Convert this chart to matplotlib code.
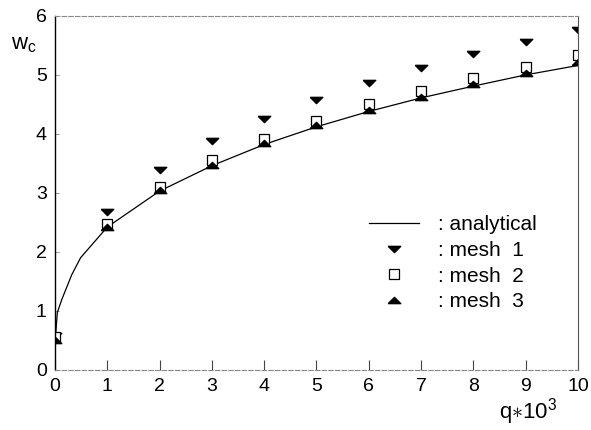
import matplotlib
matplotlib.use("Agg")
import matplotlib.pyplot as plt

plt.rcParams['font.family'] = ['Liberation Sans', 'DejaVu Sans']
plt.rcParams['mathtext.fontset'] = 'custom'
plt.rcParams['mathtext.rm'] = 'Liberation Sans'
plt.rcParams['mathtext.it'] = 'Liberation Sans'

# analytical curve
q_ana = [0.0, 0.01, 0.045, 0.13, 0.32, 0.49, 1, 2, 3, 4, 5, 6, 7, 8, 9, 10]
w_ana = [0.0, 0.55, 0.97, 1.19, 1.61, 1.90, 2.42, 3.03, 3.46, 3.82, 4.12,
         4.38, 4.61, 4.81, 5.00, 5.16]

# numerical results
q_mesh = [0, 1, 2, 3, 4, 5, 6, 7, 8, 9, 10]
w_mesh1 = [0.57, 2.68, 3.39, 3.88, 4.25, 4.58, 4.86, 5.12, 5.36, 5.56, 5.76]
w_mesh2 = [0.55, 2.48, 3.10, 3.56, 3.92, 4.22, 4.50, 4.73, 4.95, 5.14, 5.33]
w_mesh3 = [0.50, 2.42, 3.05, 3.48, 3.85, 4.15, 4.40, 4.63, 4.85, 5.03, 5.22]

x_ticks = list(range(0, 11))
y_ticks = list(range(0, 7))

# flat triangles like in the original print
tri_down = [(-1, 0.5), (1, 0.5), (0, -0.5), (-1, 0.5)]
tri_up = [(-1, -0.5), (1, -0.5), (0, 0.5), (-1, -0.5)]

fig = plt.figure(figsize=(5.91, 4.30), dpi=100)
ax = fig.add_axes([0.093, 0.14, 0.885, 0.823])

ax.plot(q_ana, w_ana, color='black', lw=0.9, label=': analytical')
ax.plot(q_mesh, w_mesh1, ls='none', marker=tri_down, ms=9, color='black',
        label=': mesh  1')
ax.plot(q_mesh, w_mesh2, ls='none', marker='s', ms=6.5, mfc='white',
        mec='black', mew=0.9, label=': mesh  2')
ax.plot(q_mesh, w_mesh3, ls='none', marker=tri_up, ms=9, color='black',
        label=': mesh  3')

ax.set_xlim(0, 10)
ax.set_ylim(0, 6)
ax.set_xticks(x_ticks)
ax.set_yticks(y_ticks)
ax.tick_params(axis='x', direction='in', length=7, width=0.8, color='#444444',
               labelsize=14, pad=6)
ax.tick_params(axis='y', direction='in', length=3, width=0.6, color='#888888',
               labelsize=14, pad=6)

ax.spines['left'].set_linewidth(1.0)
ax.spines['right'].set_linewidth(0.8)
ax.spines['right'].set_color('#555555')
for s in ['top', 'bottom']:
    ax.spines[s].set_linewidth(0.8)
    ax.spines[s].set_color('#888888')
    ax.spines[s].set_linestyle((0, (4, 2)))

fig.text(0.018, 0.885, r'w$_\mathrm{c}$', fontsize=16)
fig.text(0.845, 0.026, r'q$\ast$10$^3$', fontsize=16)

ax.legend(loc='upper left', bbox_to_anchor=(0.585, 0.46), frameon=False,
          fontsize=15, handlelength=2.4, handletextpad=0.9, labelspacing=0.32,
          borderaxespad=0)

fig.savefig('out.png', dpi=100)
